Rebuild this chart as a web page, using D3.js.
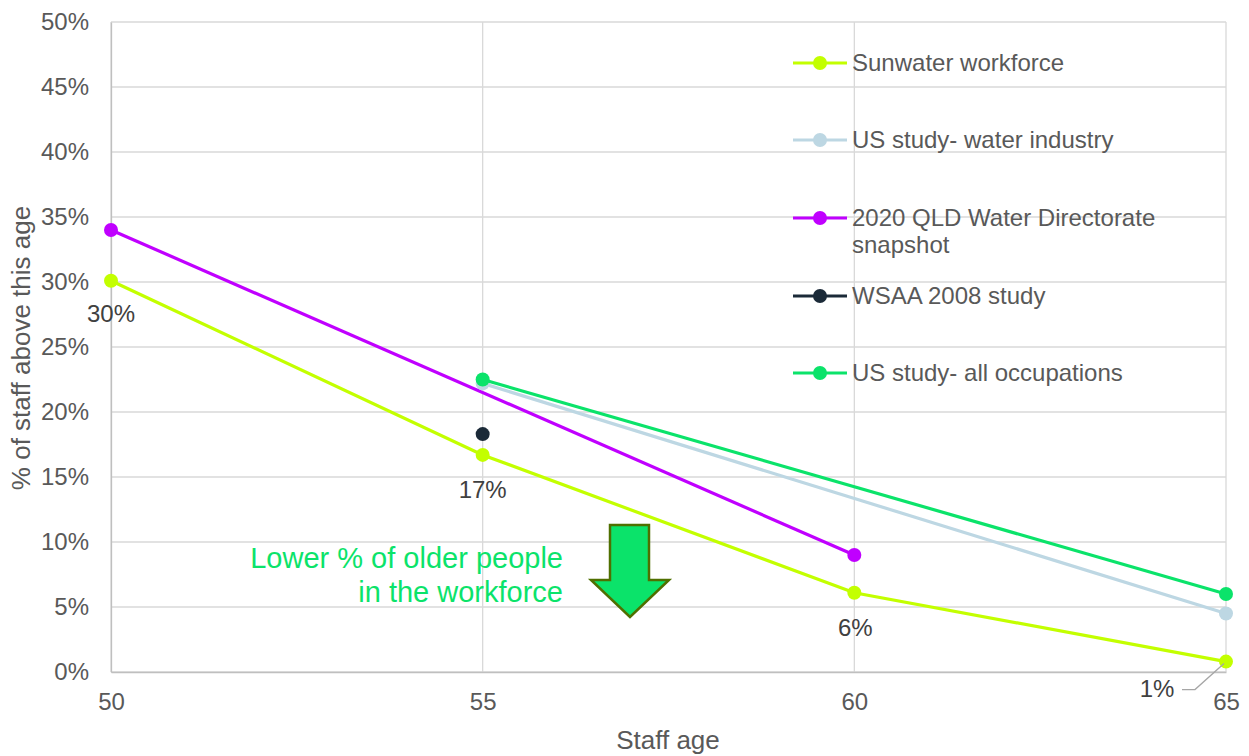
<!DOCTYPE html>
<html><head><meta charset="utf-8">
<script src="https://cdn.jsdelivr.net/npm/d3@7"></script>
<style>body{margin:0;background:#fff;font-family:Arial,"Liberation Sans",sans-serif}
text{font-family:Arial,"Liberation Sans",sans-serif}</style>
</head><body><svg id="c" width="1249" height="756"></svg>
<script>
const xTicks = [50, 55, 60, 65];
const yTicks = [0, 5, 10, 15, 20, 25, 30, 35, 40, 45, 50];
const seriesNames = ["Sunwater workforce", "US study- water industry", "2020 QLD Water Directorate snapshot", "WSAA 2008 study", "US study- all occupations"];
const seriesColors = ["#C3FF00", "#BDD7E3", "#C000FF", "#1B2A38", "#0BE36A"];
const sunwaterAges = [50, 55, 60, 65];
const sunwaterVals = [30.1, 16.7, 6.1, 0.8];
const usWaterAges = [55, 65];
const usWaterVals = [22.2, 4.5];
const qldAges = [50, 60];
const qldVals = [34.0, 9.0];
const wsaaAges = [55];
const wsaaVals = [18.3];
const usAllAges = [55, 65];
const usAllVals = [22.5, 6.0];
const dataLabels = [{age:50, v:30.1, t:"30%"}, {age:55, v:16.7, t:"17%"}, {age:60, v:6.1, t:"6%"}, {age:65, v:0.8, t:"1%"}];

const svg = d3.select("#c");
const x = d3.scaleLinear().domain([50, 65]).range([111, 1226]);
const y = d3.scaleLinear().domain([0, 50]).range([672, 22]);
const grid = "#D9D9D9", txt = "#595959";

// gridlines
svg.append("g").selectAll("line").data(yTicks).join("line")
  .attr("x1", x(50)).attr("x2", x(65)).attr("y1", d => y(d)).attr("y2", d => y(d))
  .attr("stroke", grid).attr("stroke-width", 1.3);
svg.append("g").selectAll("line").data(xTicks).join("line")
  .attr("x1", d => x(d)).attr("x2", d => x(d)).attr("y1", y(0)).attr("y2", y(50))
  .attr("stroke", grid).attr("stroke-width", 1.3);

// axes
const yAxis = d3.axisLeft(y).tickValues(yTicks).tickFormat(d => d + "%").tickSize(0).tickPadding(22);
const gy = svg.append("g").attr("transform", `translate(${x(50)},0)`).call(yAxis);
gy.select(".domain").attr("stroke", "#BFBFBF").attr("stroke-width", 1.3);
gy.selectAll("text").attr("font-size", 24).attr("fill", txt).attr("font-family", "Arial, Liberation Sans, sans-serif");
const xAxis = d3.axisBottom(x).tickValues(xTicks).tickSize(0).tickPadding(21);
const gx = svg.append("g").attr("transform", `translate(0,${y(0)})`).call(xAxis);
gx.select(".domain").attr("stroke", "#BFBFBF").attr("stroke-width", 1.3);
gx.selectAll("text").attr("font-size", 24).attr("fill", txt).attr("font-family", "Arial, Liberation Sans, sans-serif");

svg.append("text").attr("transform", `translate(30,348) rotate(-90)`).attr("text-anchor", "middle")
  .attr("font-size", 26).attr("fill", txt).text("% of staff above this age");
svg.append("text").attr("x", 668).attr("y", 749).attr("text-anchor", "middle")
  .attr("font-size", 26).attr("fill", txt).text("Staff age");

// series
const series = [
  [sunwaterAges, sunwaterVals], [usWaterAges, usWaterVals], [qldAges, qldVals], [wsaaAges, wsaaVals], [usAllAges, usAllVals]
];
const line = d3.line().x(d => x(d[0])).y(d => y(d[1]));
const drawOrder = [0, 2, 3, 1, 4];
drawOrder.forEach(i => {
  const [ages, vals] = series[i];
  const pts = ages.map((a, k) => [a, vals[k]]);
  const g = svg.append("g");
  if (pts.length > 1) g.append("path").attr("d", line(pts)).attr("fill", "none")
    .attr("stroke", seriesColors[i]).attr("stroke-width", 3.2);
  g.selectAll("circle").data(pts).join("circle").attr("cx", d => x(d[0])).attr("cy", d => y(d[1]))
    .attr("r", 7).attr("fill", seriesColors[i]);
});

// data labels (label centre offsets from the point)
const labelPos = [{dx: 0, dy: 33}, {dx: 0, dy: 35}, {dx: 1, dy: 35}, {dx: -69, dy: 27}];
dataLabels.forEach((d, i) => {
  svg.append("text").attr("x", x(d.age) + labelPos[i].dx).attr("y", y(d.v) + labelPos[i].dy)
    .attr("dy", "0.35em").attr("text-anchor", "middle").attr("font-size", 24).attr("fill", "#404040").text(d.t);
});
// leader line for 1%
const p65 = [x(65), y(0.8)];
svg.append("polyline").attr("points", `${p65[0]-44},${p65[1]+28} ${p65[0]-31},${p65[1]+28} ${p65[0]-2},${p65[1]+2}`)
  .attr("fill", "none").attr("stroke", "#A6A6A6").attr("stroke-width", 1.3);

// legend
const legY = [63, 140, 218, 296, 373];
seriesNames.forEach((n, i) => {
  const g = svg.append("g");
  g.append("line").attr("x1", 793).attr("x2", 847).attr("y1", legY[i]).attr("y2", legY[i])
    .attr("stroke", seriesColors[i]).attr("stroke-width", 3.2);
  g.append("circle").attr("cx", 820).attr("cy", legY[i]).attr("r", 7).attr("fill", seriesColors[i]);
  const t = g.append("text").attr("x", 852).attr("y", legY[i] + 8).attr("font-size", 24).attr("fill", txt);
  if (i === 2) {
    t.append("tspan").attr("x", 852).text("2020 QLD Water Directorate");
    t.append("tspan").attr("x", 852).attr("dy", 27).text("snapshot");
  } else t.text(n);
});

// annotation
svg.append("text").attr("x", 563).attr("y", 568).attr("text-anchor", "end").attr("font-size", 29)
  .attr("fill", "#0BE36A").text("Lower % of older people");
svg.append("text").attr("x", 563).attr("y", 602).attr("text-anchor", "end").attr("font-size", 29)
  .attr("fill", "#0BE36A").text("in the workforce");
svg.append("path").attr("d", "M610,525 L649,525 L649,580 L669,580 L630,617 L591,580 L610,580 Z")
  .attr("fill", "#0BE36A").attr("stroke", "#4F6F00").attr("stroke-width", 2.5).attr("stroke-linejoin", "miter");
</script></body></html>
